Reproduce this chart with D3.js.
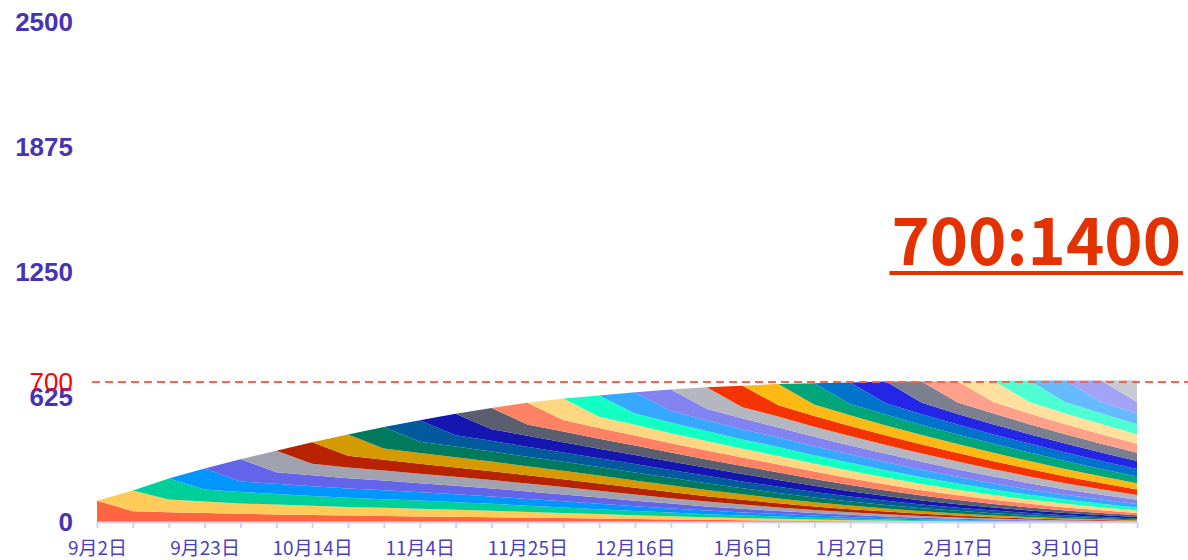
<!DOCTYPE html>
<html>
<head>
<meta charset="utf-8">
<script src="https://cdn.jsdelivr.net/npm/d3@7"></script>
<style>
  html, body { margin: 0; padding: 0; background: #ffffff; }
  svg { display: block; }
</style>
</head>
<body>
<svg id="chart" width="1188" height="560"></svg>
<script>
// Weekly dates on the x axis
const weeks = [
  "9月2日", "9月9日", "9月16日", "9月23日", "9月30日", "10月7日", "10月14日",
  "10月21日", "10月28日", "11月4日", "11月11日", "11月18日", "11月25日", "12月2日",
  "12月9日", "12月16日", "12月23日", "12月30日", "1月6日", "1月13日", "1月20日",
  "1月27日", "2月3日", "2月10日", "2月17日", "2月24日", "3月3日", "3月10日",
  "3月17日", "3月24日"
];

// One row per weekly cohort: its size in each week from the week it joins onward
const cohorts = [
  [106, 54, 49, 45, 41, 38, 35, 32, 30, 28, 26, 24, 22, 20, 18, 15, 13, 11, 9, 7, 5, 4, 3, 2, 2, 1, 1, 1, 0.5, 0.5],
  [103, 64, 57, 52, 49, 46, 43, 41, 38, 35, 32, 28, 25, 22, 19, 16, 13, 11, 9, 7, 5, 4, 3, 2, 2, 1, 1, 1, 0.5],
  [104, 60, 57, 53, 49, 46, 43, 41, 38, 35, 31, 28, 24, 21, 18, 15, 13, 11, 9, 7, 5, 4, 3, 2, 2, 1, 1, 0.5],
  [106, 52, 51, 49, 47, 45, 42, 40, 37, 34, 31, 27, 24, 21, 18, 15, 13, 11, 9, 7, 5, 4, 3, 2, 1, 1, 0.5],
  [112, 58, 55, 51, 48, 45, 42, 40, 37, 34, 31, 27, 24, 21, 18, 15, 13, 11, 9, 7, 5, 4, 3, 2, 1, 0.5],
  [107, 57, 54, 50, 47, 45, 42, 40, 37, 34, 31, 27, 24, 21, 18, 15, 13, 11, 9, 7, 5, 4, 3, 2, 1],
  [108, 58, 54, 50, 47, 44, 42, 39, 37, 34, 31, 27, 24, 21, 18, 15, 13, 11, 9, 7, 5, 4, 3, 2],
  [106, 57, 54, 51, 48, 45, 42, 40, 37, 34, 31, 28, 24, 21, 18, 15, 13, 11, 9, 7, 5, 4, 3],
  [107, 56, 53, 50, 47, 45, 42, 40, 37, 34, 30, 27, 24, 21, 18, 15, 13, 11, 9, 7, 5, 4],
  [108, 57, 54, 50, 47, 44, 42, 39, 37, 34, 31, 27, 24, 21, 18, 15, 13, 11, 9, 7, 5],
  [107, 58, 55, 51, 47, 45, 42, 40, 37, 34, 31, 27, 24, 21, 18, 15, 13, 11, 9, 7],
  [106, 57, 54, 50, 47, 45, 42, 40, 38, 34, 31, 27, 24, 21, 18, 15, 13, 11, 9],
  [108, 57, 54, 50, 47, 45, 42, 40, 37, 34, 31, 27, 24, 21, 18, 15, 13, 11],
  [107, 56, 54, 50, 47, 44, 42, 40, 37, 34, 31, 27, 24, 21, 18, 15, 13],
  [107, 57, 53, 50, 47, 45, 42, 40, 37, 34, 31, 27, 24, 21, 18, 15],
  [106, 58, 54, 50, 48, 45, 42, 40, 37, 34, 31, 27, 24, 21, 18],
  [107, 57, 54, 50, 47, 45, 42, 40, 37, 34, 31, 27, 24, 21],
  [108, 57, 54, 50, 47, 44, 42, 40, 37, 34, 31, 27, 24],
  [107, 57, 54, 50, 47, 45, 42, 40, 37, 34, 31, 27],
  [106, 57, 54, 51, 47, 45, 42, 40, 37, 34, 31],
  [107, 56, 54, 50, 47, 45, 42, 40, 37, 34],
  [107, 57, 54, 50, 47, 45, 42, 40, 37],
  [108, 57, 53, 50, 47, 45, 42, 40],
  [107, 57, 54, 50, 47, 44, 42],
  [107, 58, 54, 50, 47, 45],
  [106, 57, 54, 51, 47],
  [107, 56, 54, 50],
  [108, 57, 54],
  [107, 58],
  [108]
];

// Fill colour of each cohort band, bottom to top
const colors = [
  "#ff6541", "#ffcc5a", "#00cf9a", "#0096ff", "#6464eb", "#a0a3af",
  "#b72300", "#d49a00", "#007a5c", "#005a9c", "#1515b0", "#5a5e6e",
  "#ff8264", "#ffd780", "#14ffc4", "#36a8ff", "#8282f0", "#b4b6c0",
  "#f53300", "#ffb914", "#00a57a", "#0073cc", "#2525e5", "#7b7f90",
  "#ffa08a", "#ffe09c", "#4dffd3", "#66bbff", "#a3a3f5", "#c9cbd2"
];

const yTicks = [0, 625, 1250, 1875, 2500];
const targetValue = 700;
const titleText = "700:1400";

const svg = d3.select("#chart");

const x = d3.scalePoint().domain(weeks).range([97, 1137]);
const y = d3.scaleLinear().domain([0, 2500]).range([522, 22]);

// Week-by-week table with one field per cohort (zero before the cohort joins)
const keys = cohorts.map((_, i) => "c" + i);
const table = weeks.map((w, t) => {
  const row = { week: w };
  cohorts.forEach((vals, c) => { row["c" + c] = t >= c ? vals[t - c] : 0; });
  return row;
});

const series = d3.stack().keys(keys)(table);

svg.append("g")
  .selectAll("path")
  .data(series)
  .join("path")
  .attr("fill", (d, i) => colors[i])
  .attr("d", (s, c) => d3.area()
    .defined((d, i) => i >= c - 1)
    .x(d => x(d.data.week))
    .y0(d => y(d[0]))
    .y1(d => y(d[1]))(s));

// x axis: a tick every week, a date every third week
const xAxis = svg.append("g")
  .attr("transform", `translate(0,${y(0)})`)
  .call(d3.axisBottom(x)
    .tickSizeInner(6)
    .tickSizeOuter(0)
    .tickPadding(14)
    .tickFormat((d, i) => i % 3 === 0 ? d : ""));
xAxis.select(".domain").attr("stroke", "#d3d1f3").attr("stroke-width", 2);
xAxis.selectAll(".tick line").attr("stroke", "#d3d1f3").attr("stroke-width", 2);
xAxis.selectAll(".tick text")
  .attr("fill", "#4b3fbf")
  .style("font-family", "'Noto Sans CJK SC', sans-serif")
  .style("font-size", "19px");

// y axis labels only
svg.append("g")
  .selectAll("text")
  .data(yTicks)
  .join("text")
  .attr("x", 73)
  .attr("y", d => y(d))
  .attr("dy", "0.36em")
  .attr("text-anchor", "end")
  .attr("fill", "#4634b4")
  .style("font-family", "'Liberation Sans', Arial, sans-serif")
  .style("font-weight", "bold")
  .style("font-size", "26px")
  .text(d => d);

// target line
svg.append("line")
  .attr("x1", 92)
  .attr("x2", 1188)
  .attr("y1", y(targetValue))
  .attr("y2", y(targetValue))
  .attr("stroke", "#ff6347")
  .attr("stroke-width", 2)
  .attr("stroke-dasharray", "8,5");

svg.append("text")
  .attr("x", 73)
  .attr("y", y(targetValue))
  .attr("dy", "0.36em")
  .attr("text-anchor", "end")
  .attr("fill", "#ff0000")
  .style("font-family", "'Liberation Sans', Arial, sans-serif")
  .style("font-size", "26px")
  .text(targetValue);

// headline ratio, underlined
const title = svg.append("text")
  .attr("x", 1181)
  .attr("y", 265)
  .attr("text-anchor", "end")
  .attr("fill", "#e33100")
  .style("font-family", "'Noto Sans CJK SC', sans-serif")
  .style("font-weight", "bold")
  .style("font-size", "65px")
  .text(titleText);
const tb = title.node().getBBox();
svg.append("line")
  .attr("x1", tb.x - 2)
  .attr("x2", tb.x + tb.width + 2)
  .attr("y1", 273)
  .attr("y2", 273)
  .attr("stroke", "#e33100")
  .attr("stroke-width", 4);
</script>
</body>
</html>
